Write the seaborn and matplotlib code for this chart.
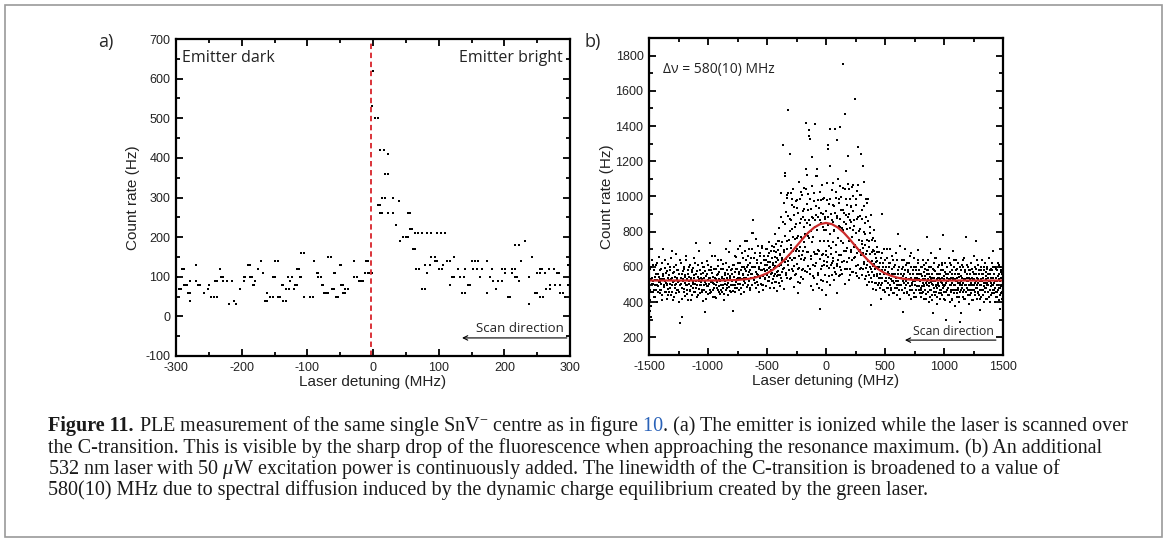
import matplotlib
matplotlib.use("Agg")
import matplotlib.pyplot as plt
from matplotlib.ticker import MultipleLocator
from matplotlib.patches import Rectangle
import seaborn as sns

# panel a) : (detuning MHz, count rate Hz)
a_points = [
    (-298, 100), (-296, 70), (-293, 70), (-291, 120), (-288, 120), (-288, 80), (-286, 80), (-283, 80),
    (-282, 60), (-279, 40), (-278, 60), (-278, 90), (-270, 130), (-270, 90), (-267, 80), (-263, 80),
    (-257, 60), (-252, 70), (-250, 80), (-246, 50), (-242, 50), (-238, 50), (-241, 90), (-238, 90),
    (-233, 120), (-231, 100), (-228, 100), (-228, 90), (-223, 90), (-220, 30), (-215, 90), (-211, 40),
    (-208, 30), (-203, 70), (-197, 100), (-195, 100), (-197, 90), (-191, 130), (-187, 130), (-187, 100),
    (-184, 100), (-183, 80), (-181, 80), (-180, 90), (-175, 120), (-170, 140), (-168, 110), (-164, 40),
    (-162, 40), (-162, 60), (-157, 50), (-153, 50), (-152, 100), (-149, 100), (-149, 140), (-145, 140),
    (-144, 50), (-142, 50), (-139, 80), (-137, 80), (-137, 40), (-133, 40), (-132, 70), (-128, 70),
    (-130, 100), (-126, 90), (-124, 100), (-121, 70), (-119, 80), (-115, 80), (-116, 120), (-113, 120),
    (-111, 100), (-109, 100), (-109, 160), (-105, 160), (-105, 50), (-96, 50), (-92, 50), (-90, 140),
    (-86, 110), (-83, 110), (-83, 100), (-79, 100), (-78, 80), (-76, 80), (-74, 60), (-71, 60),
    (-68, 60), (-68, 150), (-64, 150), (-63, 70), (-60, 70), (-60, 110), (-58, 110), (-57, 50),
    (-54, 50), (-50, 130), (-48, 130), (-48, 80), (-45, 80), (-45, 60), (-43, 60), (-43, 70),
    (-38, 70), (-29, 140), (-29, 100), (-25, 100), (-22, 90), (-18, 90), (-15, 90), (-12, 110),
    (-7, 110), (-11, 140), (-7, 140), (-6, 110), (-2, 110), (-2, 530), (0, 620),
    (3, 500), (8, 500), (11, 420), (16, 420), (23, 410), (18, 360), (23, 360), (7, 280),
    (11, 280), (14, 300), (18, 300), (30, 300), (39, 290), (11, 260), (13, 260), (23, 260),
    (31, 260), (35, 230), (41, 190), (46, 200), (50, 200), (54, 200), (54, 260), (56, 260),
    (56, 220), (60, 220), (61, 170), (64, 170), (64, 210), (69, 210), (74, 210), (66, 120),
    (70, 120), (74, 70), (79, 70), (79, 130), (82, 110), (87, 130), (89, 150), (94, 150),
    (94, 140), (97, 140), (82, 210), (89, 210), (97, 210), (103, 210), (110, 210), (100, 120),
    (105, 120), (107, 130), (112, 140), (117, 140), (117, 80), (120, 100), (123, 100), (124, 150),
    (130, 120), (132, 100), (138, 100), (135, 60), (140, 60), (140, 120), (145, 80), (148, 80),
    (150, 140), (155, 140), (153, 120), (158, 120), (160, 140), (163, 100), (166, 120), (173, 140),
    (174, 60), (178, 100), (181, 120), (183, 90), (191, 90), (188, 70), (196, 90), (196, 120),
    (201, 120), (201, 110), (211, 110), (206, 50), (209, 50), (211, 120), (216, 120), (216, 180),
    (223, 180), (216, 100), (220, 100), (223, 90), (226, 140), (231, 190), (237, 100), (237, 30),
    (242, 150), (247, 60), (249, 60), (249, 110), (254, 110), (254, 120), (258, 120), (254, 50),
    (259, 50), (262, 110), (264, 70), (270, 70), (268, 120), (270, 80), (275, 120), (277, 80),
    (285, 80), (280, 110), (283, 110), (285, 60), (290, 60), (292, 50), (297, 130), (297, 80),
]
a_line_x = -3

# panel b) : scatter read region by region (first sweep)
b_left = [
    (-1498, 560), (-1497, 330), (-1494, 470), (-1492, 350), (-1490, 410), (-1487, 530), (-1486, 318),
    (-1483, 600), (-1479, 380), (-1475, 505), (-1471, 640), (-1467, 455), (-1463, 520), (-1459, 580),
    (-1455, 430), (-1451, 495), (-1447, 545), (-1443, 610), (-1439, 470), (-1435, 525), (-1431, 400),
    (-1427, 560), (-1423, 490), (-1419, 655), (-1415, 515), (-1411, 450), (-1407, 585), (-1403, 530),
    (-1399, 470), (-1395, 505), (-1391, 620), (-1387, 440), (-1383, 550), (-1379, 700), (-1375, 485),
    (-1371, 530), (-1367, 595), (-1363, 455), (-1359, 510), (-1355, 565), (-1351, 420), (-1347, 500),
    (-1343, 540), (-1339, 615), (-1335, 475), (-1331, 525), (-1327, 460), (-1323, 580), (-1319, 505),
    (-1315, 650), (-1311, 440), (-1307, 535), (-1303, 495), (-1299, 565), (-1295, 410), (-1291, 520),
    (-1287, 600), (-1283, 480), (-1279, 545), (-1275, 505), (-1271, 675), (-1267, 450), (-1263, 530),
    (-1259, 585), (-1255, 470), (-1251, 515), (-1247, 560), (-1243, 400), (-1239, 280), (-1235, 495),
    (-1231, 625), (-1227, 540), (-1223, 318), (-1219, 480), (-1215, 575), (-1211, 520), (-1207, 455),
    (-1203, 600), (-1199, 510), (-1195, 435), (-1191, 555), (-1187, 495), (-1183, 640), (-1179, 470),
    (-1175, 530), (-1171, 580), (-1167, 415), (-1163, 505), (-1159, 545), (-1155, 465), (-1151, 610),
    (-1147, 525), (-1143, 490), (-1139, 570), (-1135, 440), (-1131, 515), (-1127, 595), (-1123, 480),
    (-1119, 535), (-1115, 650), (-1111, 460), (-1107, 505), (-1103, 560), (-1099, 736), (-1095, 495),
    (-1091, 430), (-1087, 545), (-1083, 610), (-1079, 475), (-1075, 520), (-1071, 585), (-1067, 450),
    (-1063, 540), (-1059, 500), (-1055, 625), (-1051, 470), (-1047, 530), (-1043, 405), (-1039, 565),
    (-1035, 495), (-1031, 600), (-1027, 347), (-1023, 515), (-1019, 460), (-1015, 550), (-1011, 490),
    (-1007, 635), (-1003, 525), (-999, 445), (-995, 580), (-991, 505), (-987, 736), (-983, 470),
    (-979, 540), (-975, 600), (-971, 455), (-967, 520), (-963, 565), (-959, 430), (-955, 510),
    (-951, 590), (-947, 480), (-943, 535), (-939, 660), (-935, 495), (-931, 425), (-927, 555),
    (-923, 515), (-919, 470), (-915, 605), (-911, 530), (-907, 490), (-903, 570), (-899, 445),
    (-895, 520), (-891, 640), (-887, 500), (-883, 455), (-879, 545), (-875, 590), (-871, 480),
    (-867, 530), (-863, 415), (-859, 565), (-855, 505), (-851, 620), (-847, 470), (-843, 540),
    (-839, 495), (-835, 580), (-831, 440), (-827, 525), (-823, 685), (-819, 485), (-815, 745),
    (-811, 550), (-807, 500), (-803, 460),
]
b_midleft = [
    (-799, 520), (-795, 590), (-791, 465), (-787, 350), (-783, 545), (-779, 610), (-775, 500),
    (-771, 455), (-767, 570), (-763, 655), (-759, 515), (-755, 480), (-751, 590), (-747, 540),
    (-743, 700), (-739, 470), (-735, 560), (-731, 505), (-727, 625), (-723, 445), (-719, 580),
    (-715, 530), (-711, 680), (-707, 495), (-703, 555), (-699, 600), (-695, 460), (-691, 540),
    (-687, 745), (-683, 510), (-679, 575), (-675, 640), (-671, 745), (-667, 485), (-663, 555),
    (-659, 610), (-655, 520), (-651, 700), (-647, 470), (-643, 585), (-639, 535), (-635, 650),
    (-631, 500), (-627, 560), (-623, 790), (-619, 869), (-615, 793), (-611, 525), (-607, 600),
    (-603, 545), (-599, 680), (-595, 480), (-591, 570), (-587, 620), (-583, 515), (-579, 720),
    (-575, 555), (-571, 460), (-567, 600), (-563, 535), (-559, 660), (-555, 505), (-551, 580),
    (-547, 620), (-543, 495), (-539, 710), (-535, 550), (-531, 470), (-527, 590), (-523, 640),
    (-519, 530), (-515, 575), (-511, 700), (-507, 490), (-503, 610), (-499, 555), (-495, 660),
    (-491, 520), (-487, 595), (-483, 740), (-479, 545), (-475, 480), (-471, 630), (-467, 580),
    (-463, 690), (-459, 510), (-455, 565), (-451, 620),
]
b_center = [
    (-447, 534), (-444, 712), (-441, 596), (-438, 483), (-435, 657), (-432, 561), (-429, 786),
    (-426, 517), (-423, 628), (-420, 683), (-417, 548), (-414, 463), (-411, 579), (-408, 747),
    (-405, 641), (-402, 507), (-399, 604), (-396, 823), (-393, 552), (-390, 668), (-387, 493),
    (-384, 612), (-381, 1021), (-378, 718), (-375, 571), (-372, 637), (-369, 523), (-366, 857),
    (-363, 1290), (-360, 592), (-357, 694), (-354, 472), (-351, 1135), (-348, 1116), (-345, 774),
    (-342, 566), (-339, 647), (-336, 913), (-333, 538), (-330, 703), (-327, 992), (-324, 613),
    (-321, 1492), (-318, 1021), (-315, 754), (-312, 583), (-309, 874), (-306, 652), (-303, 1240),
    (-300, 1021), (-297, 726), (-294, 537), (-291, 953), (-288, 642), (-285, 816), (-282, 577),
    (-279, 689), (-276, 1043), (-273, 608), (-270, 893), (-267, 486), (-264, 757), (-261, 648),
    (-258, 972), (-255, 558), (-252, 846), (-249, 703), (-246, 617), (-243, 936), (-240, 512),
    (-237, 451), (-234, 776), (-231, 662), (-228, 1084), (-225, 594), (-222, 983), (-219, 713),
    (-216, 543), (-213, 871), (-210, 646), (-207, 758), (-204, 1007), (-201, 582), (-198, 691),
    (-195, 532), (-192, 917), (-189, 824), (-186, 638), (-183, 1047), (-180, 716), (-177, 576),
    (-174, 869), (-171, 1420), (-168, 1154), (-165, 1122), (-162, 687), (-159, 958), (-156, 604),
    (-153, 777), (-150, 1013), (-147, 866), (-144, 1376), (-141, 1344), (-138, 1325), (-135, 562),
    (-132, 838), (-129, 493), (-126, 927), (-123, 643), (-120, 1058), (-117, 739), (-115, 1222),
    (-112, 876), (-109, 609), (-106, 471), (-103, 977), (-100, 538), (-97, 1412), (-94, 828),
    (-91, 674), (-88, 1118), (-85, 893), (-82, 621), (-79, 503), (-76, 1154), (-73, 1116),
    (-70, 884), (-67, 699), (-64, 556), (-61, 936), (-58, 483), (-55, 1027), (-52, 360),
    (-49, 645), (-46, 847), (-43, 527), (-40, 979), (-37, 603), (-34, 467), (-31, 1063),
    (-28, 672), (-25, 902), (-22, 518), (-19, 811), (-16, 633), (-13, 993), (-10, 553),
    (-7, 871), (-4, 438), (-1, 692), (2, 915), (5, 606), (8, 512), (11, 1077), (14, 654),
    (17, 836), (18, 1290), (20, 1272), (23, 721), (26, 957), (29, 593), (32, 1382), (35, 497),
    (38, 1173), (41, 674), (44, 899), (47, 553), (50, 1037), (53, 624), (56, 858), (59, 631),
    (60, 1074), (63, 951), (66, 527), (69, 812), (72, 594), (75, 1386), (78, 904), (81, 683),
    (84, 991), (87, 559), (89, 451), (92, 879), (95, 617), (97, 1321), (100, 641), (103, 1097),
    (106, 833), (109, 548), (112, 962), (115, 598), (117, 1396), (120, 872), (122, 1059),
    (125, 583), (128, 668), (131, 996), (134, 819), (137, 562), (140, 924), (145, 1752),
    (148, 737), (151, 853), (154, 634), (157, 1041), (160, 503), (165, 1471), (168, 893),
    (171, 688), (173, 1145), (176, 951), (179, 813), (182, 591), (185, 1072), (188, 1230),
    (191, 528), (194, 903), (197, 652), (200, 986), (203, 821), (206, 557), (209, 938),
    (212, 694), (215, 854), (218, 1053), (221, 639), (224, 772), (227, 916), (230, 573),
    (233, 1002), (236, 714), (239, 833), (244, 1553), (247, 659), (250, 954), (253, 563),
    (256, 793), (259, 1031), (262, 678), (265, 874), (268, 612), (272, 1283), (275, 1068),
    (278, 752), (281, 537), (284, 891), (287, 697), (290, 818), (293, 594), (296, 1006),
    (300, 1240), (303, 733), (306, 871), (309, 553), (312, 682), (315, 1173), (318, 799),
    (321, 614), (324, 948), (327, 533), (330, 722), (333, 849), (336, 596), (339, 984),
    (342, 676), (345, 497), (348, 964), (351, 752), (354, 573), (357, 861), (360, 633),
    (363, 714), (366, 517), (369, 793), (372, 601), (375, 671), (378, 893), (381, 536),
    (385, 385), (388, 632), (391, 754), (394, 571), (397, 698), (400, 477), (403, 618),
    (406, 812), (409, 554), (412, 676), (415, 747), (418, 507), (421, 598), (424, 653),
    (427, 467), (430, 712), (433, 558), (436, 636), (439, 497), (442, 602), (445, 687), (448, 537),
]
b_midright = [
    (452, 600), (456, 480), (460, 540), (464, 650), (468, 420), (472, 580), (476, 510), (478, 903),
    (482, 620), (486, 470), (490, 560), (494, 700), (498, 520), (502, 460), (506, 600), (510, 540),
    (514, 650), (518, 480), (522, 570), (526, 510), (530, 620), (534, 440), (538, 560), (542, 500),
    (546, 700), (550, 530), (554, 470), (558, 590), (562, 520), (566, 640), (570, 450), (574, 560),
    (578, 510), (582, 610), (586, 480), (590, 540), (594, 680), (598, 500), (602, 440), (606, 580),
    (611, 789), (614, 520), (618, 470), (622, 600), (626, 540), (630, 420), (634, 560), (638, 500),
    (642, 640), (646, 470), (650, 550), (653, 347), (656, 600), (660, 510), (664, 450), (668, 580),
    (672, 700), (676, 500), (680, 540), (684, 460), (688, 620), (692, 510), (696, 570), (700, 440),
    (704, 530), (708, 660), (712, 490), (716, 560), (720, 420), (724, 600), (728, 510), (732, 470),
    (736, 580), (740, 520), (744, 650), (748, 450), (752, 540), (756, 500), (760, 600), (764, 430),
    (768, 560), (772, 490), (776, 620), (780, 698), (784, 470), (788, 530), (792, 580), (796, 450),
]
b_right = [
    (800, 520), (803, 470), (806, 600), (809, 430), (812, 550), (815, 490), (818, 640), (821, 510),
    (824, 455), (827, 570), (830, 500), (833, 420), (836, 590), (839, 530), (842, 470), (845, 620),
    (848, 510), (851, 445), (854, 560), (857, 500), (859, 770), (862, 580), (865, 460), (868, 530),
    (871, 400), (874, 600), (877, 490), (880, 545), (883, 430), (886, 515), (889, 680), (892, 470),
    (895, 560), (898, 505), (901, 410), (904, 590), (907, 337), (910, 520), (913, 480), (916, 620),
    (919, 540), (922, 440), (925, 575), (928, 500), (931, 460), (934, 650), (937, 530), (940, 480),
    (943, 390), (946, 560), (949, 510), (952, 600), (955, 450), (958, 535), (961, 490), (964, 700),
    (967, 420), (970, 560), (973, 515), (976, 470), (979, 610), (982, 540), (985, 440), (988, 500),
    (992, 779), (995, 580), (998, 460), (1001, 530), (1004, 490), (1007, 410), (1010, 620), (1013, 510),
    (1016, 560), (1020, 299), (1023, 470), (1026, 540), (1029, 600), (1032, 440), (1035, 520), (1038, 480),
    (1041, 650), (1044, 530), (1047, 400), (1050, 570), (1053, 500), (1056, 460), (1059, 610), (1062, 540),
    (1065, 420), (1068, 580), (1071, 510), (1074, 470), (1077, 690), (1080, 530), (1083, 450), (1086, 600),
    (1089, 500), (1092, 380), (1095, 560), (1098, 520), (1101, 470), (1104, 640), (1107, 540), (1110, 430),
    (1113, 590), (1116, 510), (1119, 470), (1122, 620), (1125, 545), (1128, 400), (1131, 560), (1133, 290),
    (1136, 500), (1139, 460), (1142, 580), (1145, 520), (1147, 337), (1150, 610), (1153, 480), (1156, 540),
    (1159, 430), (1162, 600), (1165, 510), (1168, 470), (1171, 650), (1174, 530), (1177, 420), (1180, 570),
    (1183, 500), (1186, 460), (1190, 770), (1193, 540), (1196, 480), (1199, 610), (1202, 520), (1205, 440),
    (1208, 580), (1211, 500), (1214, 390), (1217, 560), (1220, 530), (1223, 470), (1226, 620), (1229, 510),
    (1232, 450), (1235, 590), (1238, 540), (1241, 410), (1244, 570), (1247, 500), (1250, 660), (1253, 470),
    (1256, 530), (1259, 440), (1262, 600), (1265, 510), (1268, 480), (1271, 560), (1274, 745), (1277, 420),
    (1280, 540), (1283, 500), (1286, 610), (1289, 460), (1292, 530), (1295, 580), (1298, 440), (1302, 356),
    (1305, 520), (1308, 470), (1311, 600), (1314, 500), (1317, 430), (1320, 560), (1323, 520), (1326, 640),
    (1329, 470), (1332, 540), (1335, 490), (1338, 400), (1341, 580), (1344, 510), (1347, 460), (1350, 620),
    (1353, 530), (1356, 480), (1359, 570), (1362, 420), (1365, 510), (1368, 600), (1371, 460), (1374, 540),
    (1377, 500), (1380, 650), (1383, 430), (1386, 560), (1389, 520), (1392, 470), (1395, 590), (1398, 510),
    (1401, 440), (1404, 580), (1407, 500), (1410, 620), (1413, 470), (1415, 688), (1418, 540), (1421, 450),
    (1424, 560), (1427, 510), (1430, 400), (1433, 600), (1436, 480), (1439, 540), (1442, 460), (1445, 580),
    (1448, 520), (1451, 430), (1454, 620), (1457, 500), (1460, 470), (1463, 560), (1466, 410), (1469, 530),
    (1472, 600), (1475, 480), (1477, 360), (1480, 540), (1483, 450), (1486, 584), (1489, 500), (1492, 420),
    (1495, 560), (1498, 490),
]

# second sweep, same regions
b_left2 = [
    (-1496, 480), (-1489, 590), (-1482, 455), (-1476, 540), (-1470, 505), (-1464, 610), (-1458, 470),
    (-1452, 525), (-1446, 430), (-1440, 560), (-1434, 500), (-1428, 620), (-1422, 455), (-1416, 545),
    (-1410, 515), (-1404, 470), (-1398, 590), (-1392, 530), (-1386, 410), (-1380, 560), (-1374, 495),
    (-1368, 640), (-1362, 520), (-1356, 460), (-1350, 575), (-1344, 505), (-1338, 440), (-1332, 555),
    (-1326, 600), (-1320, 480), (-1314, 530), (-1308, 690), (-1302, 455), (-1296, 515), (-1290, 570),
    (-1284, 430), (-1278, 500), (-1272, 610), (-1266, 540), (-1260, 470), (-1254, 585), (-1248, 520),
    (-1242, 455), (-1236, 640), (-1230, 505), (-1224, 560), (-1218, 420), (-1212, 530), (-1206, 590),
    (-1200, 475), (-1194, 545), (-1188, 660), (-1182, 500), (-1176, 445), (-1170, 560), (-1164, 520),
    (-1158, 600), (-1152, 470), (-1146, 535), (-1140, 410), (-1134, 580), (-1128, 505), (-1122, 555),
    (-1116, 460), (-1110, 620), (-1104, 520), (-1098, 480), (-1092, 575), (-1086, 440), (-1080, 530),
    (-1074, 690), (-1068, 495), (-1062, 560), (-1056, 515), (-1050, 455), (-1044, 600), (-1038, 540),
    (-1032, 470), (-1026, 575), (-1020, 505), (-1014, 420), (-1008, 560), (-1002, 610), (-996, 490),
    (-990, 535), (-984, 450), (-978, 580), (-972, 515), (-966, 660), (-960, 470), (-954, 545),
    (-948, 505), (-942, 430), (-936, 590), (-930, 530), (-924, 480), (-918, 560), (-912, 640),
    (-906, 455), (-900, 525), (-894, 590), (-888, 470), (-882, 540), (-876, 500), (-870, 615),
    (-864, 445), (-858, 555), (-852, 520), (-846, 700), (-840, 480), (-834, 560), (-828, 510),
    (-822, 600), (-816, 465), (-810, 540), (-804, 580),
]
b_midleft2 = [
    (-797, 560), (-791, 610), (-785, 500), (-779, 545), (-773, 660), (-767, 480), (-761, 590),
    (-755, 530), (-749, 625), (-743, 505), (-737, 570), (-731, 720), (-725, 540), (-719, 480),
    (-713, 600), (-707, 560), (-701, 650), (-695, 520), (-689, 590), (-683, 690), (-677, 540),
    (-671, 600), (-665, 500), (-659, 660), (-653, 570), (-647, 620), (-641, 480), (-635, 560),
    (-629, 700), (-623, 600), (-617, 540), (-611, 650), (-605, 510), (-599, 600), (-593, 760),
    (-587, 560), (-581, 640), (-575, 500), (-569, 590), (-563, 680), (-557, 545), (-551, 620),
    (-545, 720), (-539, 580), (-533, 500), (-527, 660), (-521, 610), (-515, 540), (-509, 640),
    (-503, 700), (-497, 580), (-491, 630), (-485, 520), (-479, 680), (-473, 600), (-467, 560),
    (-461, 650), (-455, 720),
]
b_center2 = [
    (-449, 612), (-444, 548), (-439, 689), (-434, 603), (-429, 514), (-424, 731), (-419, 571),
    (-414, 652), (-409, 694), (-404, 553), (-399, 748), (-394, 611), (-389, 672), (-384, 536),
    (-379, 884), (-374, 653), (-369, 741), (-364, 589), (-359, 963), (-354, 685), (-349, 627),
    (-344, 846), (-339, 553), (-334, 1008), (-329, 745), (-324, 631), (-319, 889), (-314, 668),
    (-309, 534), (-304, 806), (-299, 709), (-294, 866), (-289, 591), (-284, 987), (-279, 768),
    (-274, 649), (-269, 943), (-264, 552), (-259, 828), (-254, 691), (-249, 982), (-244, 763),
    (-239, 587), (-234, 906), (-229, 688), (-224, 847), (-219, 509), (-214, 771), (-209, 1026),
    (-204, 668), (-199, 884), (-194, 588), (-189, 742), (-184, 928), (-179, 651), (-174, 786),
    (-169, 1043), (-164, 571), (-159, 849), (-154, 687), (-149, 926), (-144, 766), (-139, 589),
    (-134, 984), (-129, 806), (-124, 663), (-119, 883), (-114, 548), (-109, 769), (-104, 1022),
    (-99, 687), (-94, 869), (-89, 606), (-84, 947), (-79, 672), (-74, 808), (-69, 567),
    (-64, 982), (-59, 691), (-54, 866), (-49, 747), (-44, 591), (-39, 907), (-34, 668),
    (-29, 826), (-24, 988), (-19, 611), (-14, 748), (-9, 886), (-4, 667), (1, 807),
    (6, 982), (11, 628), (16, 749), (21, 883), (26, 551), (31, 789), (36, 986), (41, 706),
    (46, 613), (51, 868), (56, 744), (61, 651), (66, 946), (71, 806), (76, 569), (81, 1024),
    (86, 727), (91, 608), (96, 887), (101, 766), (106, 988), (111, 669), (116, 828), (121, 553),
    (126, 923), (131, 747), (136, 628), (141, 1046), (146, 807), (151, 688), (156, 908), (161, 587),
    (166, 846), (171, 983), (176, 708), (181, 627), (186, 883), (191, 1043), (196, 748), (201, 588),
    (206, 866), (211, 686), (216, 944), (221, 569), (226, 807), (231, 1063), (236, 648), (241, 866),
    (246, 727), (251, 608), (256, 987), (261, 709), (266, 551), (271, 886), (276, 688), (281, 806),
    (286, 589), (291, 1007), (296, 668), (301, 747), (306, 926), (311, 588), (316, 706), (321, 1084),
    (326, 628), (331, 788), (336, 548), (341, 886), (346, 688), (351, 609), (356, 983), (361, 552),
    (366, 748), (371, 628), (376, 826), (381, 588), (386, 687), (391, 512), (396, 766), (401, 608),
    (406, 551), (411, 688), (416, 589), (421, 508), (426, 627), (431, 549), (436, 686), (441, 588),
    (446, 511),
]
b_midright2 = [
    (454, 560), (460, 620), (466, 500), (472, 680), (478, 540), (484, 600), (490, 470), (496, 580),
    (502, 640), (508, 520), (514, 560), (520, 700), (526, 480), (532, 600), (538, 540), (544, 620),
    (550, 480), (556, 560), (562, 660), (568, 520), (574, 600), (580, 450), (586, 560), (592, 520),
    (598, 640), (604, 480), (610, 560), (616, 600), (622, 500), (628, 720), (634, 540), (640, 470),
    (646, 590), (652, 520), (658, 640), (664, 560), (670, 480), (676, 610), (682, 520), (688, 450),
    (694, 580), (700, 530), (706, 620), (712, 470), (718, 540), (724, 680), (730, 500), (736, 560),
    (742, 430), (748, 600), (754, 520), (760, 470), (766, 580), (772, 540), (778, 640), (784, 490),
    (790, 560), (796, 520),
]
b_right2 = [
    (802, 480), (807, 560), (812, 600), (817, 450), (822, 530), (827, 490), (832, 610), (837, 470),
    (842, 550), (847, 420), (852, 580), (857, 520), (862, 460), (867, 640), (872, 510), (877, 560),
    (882, 470), (887, 530), (892, 600), (897, 440), (902, 540), (907, 500), (912, 580), (917, 460),
    (922, 520), (927, 650), (932, 490), (937, 560), (942, 430), (947, 540), (952, 500), (957, 610),
    (962, 470), (967, 530), (972, 580), (977, 450), (982, 510), (987, 620), (992, 480), (997, 550),
    (1002, 420), (1007, 570), (1012, 500), (1017, 460), (1022, 600), (1027, 520), (1032, 480), (1037, 560),
    (1042, 440), (1047, 530), (1052, 620), (1057, 500), (1062, 470), (1067, 560), (1072, 410), (1077, 540),
    (1082, 500), (1087, 640), (1092, 470), (1097, 530), (1102, 580), (1107, 450), (1112, 520), (1117, 480),
    (1122, 560), (1127, 430), (1132, 600), (1137, 510), (1142, 470), (1147, 550), (1152, 500), (1157, 640),
    (1162, 460), (1167, 530), (1172, 420), (1177, 580), (1182, 500), (1187, 460), (1192, 560), (1197, 520),
    (1202, 600), (1207, 470), (1212, 540), (1217, 440), (1222, 580), (1227, 500), (1232, 620), (1237, 470),
    (1242, 530), (1247, 410), (1252, 560), (1257, 500), (1262, 460), (1267, 590), (1272, 520), (1277, 480),
    (1282, 640), (1287, 510), (1292, 450), (1297, 560), (1302, 500), (1307, 420), (1312, 580), (1317, 530),
    (1322, 470), (1327, 560), (1332, 440), (1337, 600), (1342, 510), (1347, 480), (1352, 550), (1357, 420),
    (1362, 590), (1367, 500), (1372, 460), (1377, 560), (1382, 520), (1387, 400), (1392, 580), (1397, 490),
    (1402, 540), (1407, 450), (1412, 600), (1417, 500), (1422, 470), (1427, 560), (1432, 520), (1437, 430),
    (1442, 590), (1447, 500), (1452, 460), (1457, 550), (1462, 480), (1467, 610), (1472, 440), (1477, 520),
    (1482, 490), (1487, 570), (1492, 460), (1497, 530),
]

# red fit curve
fit_x = [-1500, -1400, -1300, -1200, -1100, -1000, -900, -800, -750, -700, -650, -600, -550, -500,
         -450, -400, -350, -300, -250, -200, -150, -100, -50, 0, 50, 100, 150, 200, 250, 300, 350,
         400, 450, 500, 550, 600, 650, 700, 750, 800, 900, 1000, 1100, 1200, 1300, 1400, 1500]
fit_y = [523, 523, 523, 523, 523, 523, 523, 525, 526, 529, 533, 540, 550, 564,
         584, 610, 642, 678, 718, 758, 795, 824, 843, 850, 843, 824, 795, 758, 718, 678, 642,
         610, 584, 564, 550, 540, 533, 529, 526, 525, 523, 523, 523, 523, 523, 523, 523]

cap_lines = [
    [("Figure 11.", {"weight": "bold"}),
     (" PLE measurement of the same single SnV$^{-}$ centre as in figure", {}),
     (" 10", {"color": "#2a62b8"}),
     (". (a) The emitter is ionized while the laser is scanned over", {})],
    [("the C-transition. This is visible by the sharp drop of the fluorescence when approaching "
      "the resonance maximum. (b) An additional", {})],
    [("532 nm laser with 50 $\\mu$W excitation power is continuously added. The linewidth of the "
      "C-transition is broadened to a value of", {})],
    [("580(10) MHz due to spectral diffusion induced by the dynamic charge equilibrium created by "
      "the green laser.", {})],
]

sns.set_style("ticks")
plt.rcParams["font.family"] = ["Liberation Sans", "DejaVu Sans"]
plt.rcParams["axes.unicode_minus"] = False
plt.rcParams["mathtext.fontset"] = "custom"
plt.rcParams["mathtext.rm"] = "Liberation Serif"
plt.rcParams["mathtext.it"] = "Liberation Serif:italic"
plt.rcParams["mathtext.bf"] = "Liberation Serif:bold"

W, H = 1168, 542
fig = plt.figure(figsize=(W / 100, H / 100), dpi=100)
ax_a = fig.add_axes([176 / W, 1 - 356 / H, 394 / W, 317 / H])
ax_b = fig.add_axes([649 / W, 1 - 355 / H, 354 / W, 317 / H])
hum = ["Open Sans", "DejaVu Sans"]


def style_axis(ax, xmaj, ymaj):
    ax.xaxis.set_major_locator(MultipleLocator(xmaj))
    ax.xaxis.set_minor_locator(MultipleLocator(xmaj / 2))
    ax.yaxis.set_major_locator(MultipleLocator(ymaj))
    ax.yaxis.set_minor_locator(MultipleLocator(ymaj / 2))
    ax.tick_params(which="both", direction="in", top=True, right=True, width=1.3,
                   labelsize=9, color="black", labelcolor="#222222")
    ax.tick_params(which="major", length=5, pad=4)
    ax.tick_params(which="minor", length=3)
    for s in ax.spines.values():
        s.set_visible(True)
        s.set_linewidth(1.6)
        s.set_color("black")
    ax.set_xlabel("Laser detuning (MHz)", fontsize=11, color="#222222")
    ax.set_ylabel("Count rate (Hz)", fontsize=11, color="#222222")


# a) emitter ionisation
sns.scatterplot(x=[p[0] for p in a_points], y=[p[1] for p in a_points], ax=ax_a,
                color="black", marker="s", s=4.5, linewidth=0, legend=False)
ax_a.axvline(a_line_x, color="#d8232a", ls=(0, (3, 2)), lw=1.3)
ax_a.set_xlim(-300, 300)
ax_a.set_ylim(-100, 700)
style_axis(ax_a, 100, 100)
ax_a.yaxis.set_label_coords(-0.092, 0.5)
ax_a.xaxis.set_label_coords(0.5, -0.06)
ax_a.text(0.015, 0.94, "Emitter dark", transform=ax_a.transAxes, family=hum, fontsize=11.5,
          ha="left", va="center", color="#222222")
ax_a.text(0.982, 0.94, "Emitter bright", transform=ax_a.transAxes, family=hum, fontsize=11.5,
          ha="right", va="center", color="#222222")
ax_a.text(0.985, 0.087, "Scan direction", transform=ax_a.transAxes, family=hum, fontsize=9.5,
          ha="right", va="center", color="#222222")
ax_a.annotate("", xy=(0.726, 0.057), xytext=(0.992, 0.057), xycoords="axes fraction",
              arrowprops=dict(arrowstyle="->", lw=0.8, color="black", mutation_scale=8,
                              shrinkA=0, shrinkB=0))

# b) with green laser
b_all = (b_left + b_midleft + b_center + b_midright + b_right
         + b_left2 + b_midleft2 + b_center2 + b_midright2 + b_right2)
sns.scatterplot(x=[p[0] for p in b_all], y=[p[1] for p in b_all], ax=ax_b,
                color="black", marker="s", s=2.0, linewidth=0, legend=False)
sns.lineplot(x=fit_x, y=fit_y, ax=ax_b, color="#cc2a2a", lw=1.6)
ax_b.set_xlim(-1500, 1500)
ax_b.set_ylim(100, 1900)
style_axis(ax_b, 500, 200)
ax_b.yaxis.set_label_coords(-0.1, 0.5)
ax_b.xaxis.set_label_coords(0.5, -0.06)
ax_b.text(0.04, 0.9, "\u0394\u03bd = 580(10) MHz", transform=ax_b.transAxes, family=hum,
          fontsize=10, ha="left", va="center", color="#222222")
ax_b.text(0.975, 0.073, "Scan direction", transform=ax_b.transAxes, family=hum, fontsize=8.8,
          ha="right", va="center", color="#222222")
ax_b.annotate("", xy=(0.723, 0.047), xytext=(0.98, 0.047), xycoords="axes fraction",
              arrowprops=dict(arrowstyle="->", lw=0.8, color="black", mutation_scale=8,
                              shrinkA=0, shrinkB=0))

fig.text(106 / W, 1 - 42 / H, "a)", family=hum, fontsize=13, ha="center", va="center")
fig.text(593 / W, 1 - 42 / H, "b)", family=hum, fontsize=13, ha="center", va="center")

# caption
renderer = fig.canvas.get_renderer()
baselines = [431, 452.5, 474, 495.5]
for yb, parts in zip(baselines, cap_lines):
    x = 48 / W
    for txt, kw in parts:
        props = {"color": "#1a1a1a"}
        props.update(kw)
        t = fig.text(x, 1 - yb / H, txt, family="Liberation Serif", fontsize=14.5,
                     va="baseline", ha="left", **props)
        x = t.get_window_extent(renderer=renderer).x1 / fig.bbox.width

fig.patches.append(Rectangle((5 / W, 5 / H), 1157 / W, 532 / H, transform=fig.transFigure,
                             fill=False, ec="#9a9a9a", lw=1.2))

fig.savefig("out.png", dpi=100)
